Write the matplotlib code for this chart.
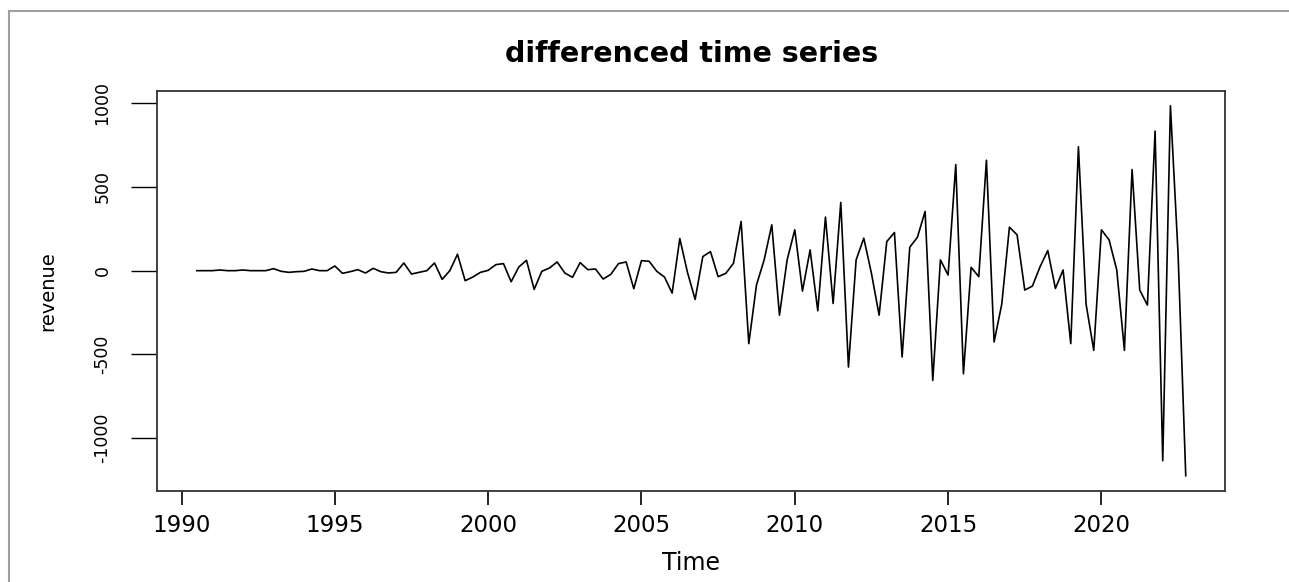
import numpy as np
import matplotlib
matplotlib.use("Agg")
import matplotlib.pyplot as plt
from matplotlib.lines import Line2D

# quarterly differenced revenue, 1990 Q3 .. 2022 Q4
START_YEAR = 1990.5
FREQ = 4
revenue_diff = [
    0, 0,
    0, 4, 0, 0,            # 1991
    4, 0, 0, 0,            # 1992
    12, -4, -10, -6,       # 1993
    -4, 10, 0, 0,          # 1994
    28, -16, -6, 6,        # 1995
    -14, 14, -6, -14,      # 1996
    -10, 46, -20, -10,     # 1997
    0, 46, -52, 0,         # 1998
    98, -60, -38, -10,     # 1999
    2, 36, 42, -66,        # 2000
    22, 62, -112, -4,      # 2001
    16, 52, -14, -40,      # 2002
    48, 6, 10, -50,        # 2003
    -22, 42, 52, -108,     # 2004
    60, 56, -4, -38,       # 2005
    -134, 192, -10, -172,  # 2006
    84, 114, -36, -16,     # 2007
    44, 294, -436, -86,    # 2008
    64, 274, -266, 64,     # 2009
    244, -122, 124, -240,  # 2010
    320, -196, 408, -576,  # 2011
    64, 194, -16, -266,    # 2012
    174, 228, -516, 140,   # 2013
    200, 354, -656, 64,    # 2014
    -26, 634, -616, 20,    # 2015
    -36, 660, -426, -200,  # 2016
    260, 214, -116, -92,   # 2017
    24, 120, -106, 4,      # 2018
    -436, 740, -200, -476, # 2019
    244, 184, 4, -476,     # 2020
    604, -116, -206, 834,  # 2021
    -1136, 985, 100, -1225 # 2022
]
x_ticks = [1990, 1995, 2000, 2005, 2010, 2015, 2020]
y_ticks = [-1000, -500, 0, 500, 1000]

t = START_YEAR + np.arange(len(revenue_diff)) / FREQ

W, H = 1289, 582
fig = plt.figure(figsize=(W / 100, H / 100), dpi=100)
ax = fig.add_axes([157.3 / W, 1 - 490.5 / H, (1225.3 - 157.3) / W, (490.5 - 91) / H])

ax.plot(t, revenue_diff, color="black", lw=1.2)
ax.margins(x=0.04, y=0.04)

ax.set_xticks(x_ticks)
ax.set_yticks(y_ticks)
ax.set_yticklabels([str(v) for v in y_ticks], rotation=90, va="center")
ax.tick_params(axis="x", length=10, width=1.2, labelsize=16.5, pad=7)
ax.tick_params(axis="y", length=19, width=1.0, labelsize=12.5, pad=14)
for s in ax.spines.values():
    s.set_linewidth(1.3)
    s.set_color("#333333")

ax.set_title("differenced time series", fontsize=20.5, fontweight="bold", pad=21)
ax.set_xlabel("Time", fontsize=17, labelpad=10)
ax.set_ylabel("revenue", fontsize=14, labelpad=26)

# window frame of the screenshot
fig.add_artist(Line2D([9 / W, 9 / W], [0, 1 - 11 / H], transform=fig.transFigure, color="#a0a0a0", lw=1.5))
fig.add_artist(Line2D([9 / W, 1], [1 - 11 / H, 1 - 11 / H], transform=fig.transFigure, color="#a0a0a0", lw=1.5))

fig.savefig("out.png", dpi=100)
